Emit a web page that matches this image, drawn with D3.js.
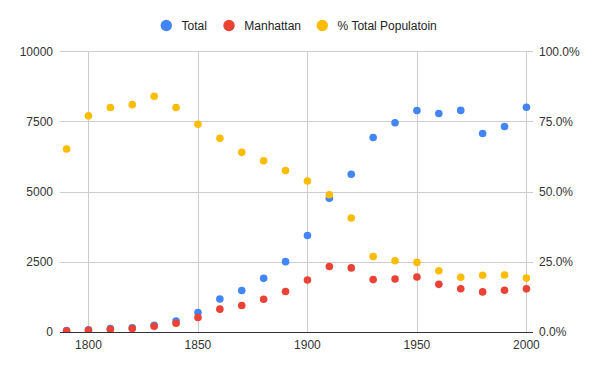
<!DOCTYPE html>
<html>
<head>
<meta charset="utf-8">
<script src="https://cdn.jsdelivr.net/npm/d3@7"></script>
<style>
  body { margin: 0; background: #fff; }
  svg { display: block; font-family: Arial, "Liberation Sans", sans-serif; }
</style>
</head>
<body>
<svg id="chart"></svg>
<script>
// census years and values (population in thousands)
var years = [1790, 1800, 1810, 1820, 1830, 1840, 1850, 1860, 1870, 1880, 1890,
             1900, 1910, 1920, 1930, 1940, 1950, 1960, 1970, 1980, 1990, 2000];
var total = [49, 79, 120, 152, 242, 391, 696, 1175, 1478, 1912, 2507,
             3437, 4767, 5620, 6930, 7455, 7892, 7782, 7895, 7072, 7323, 8008];
var manhattan = [33, 61, 96, 124, 203, 313, 516, 814, 942, 1165, 1441,
                 1850, 2332, 2284, 1867, 1890, 1960, 1698, 1539, 1428, 1488, 1537];
var pctTotal = [0.652, 0.77, 0.80, 0.81, 0.84, 0.80, 0.74, 0.69, 0.64, 0.61, 0.575,
                0.538, 0.489, 0.406, 0.269, 0.254, 0.248, 0.218, 0.195, 0.202, 0.203, 0.192];

var xTicks = [1800, 1850, 1900, 1950, 2000];
var leftTicks = [0, 2500, 5000, 7500, 10000];
var rightTicks = [0, 0.25, 0.5, 0.75, 1];

var seriesNames = ["Total", "Manhattan", "% Total Populatoin"];
var colors = ["#4285f4", "#ea4335", "#fbbc04"];

var w = 600, h = 371;
var plotL = 60, plotR = 533, plotT = 51.3, plotB = 332;

var svg = d3.select("#chart").attr("width", w).attr("height", h);

var x = d3.scaleLinear().domain([1787, 2003]).range([plotL, plotR]);
var y = d3.scaleLinear().domain([0, 10000]).range([plotB, plotT]);
var y2 = d3.scaleLinear().domain([0, 1]).range([plotB, plotT]);

// points are clipped at the baseline like the original
svg.append("defs").append("clipPath").attr("id", "plotclip")
    .append("rect")
    .attr("x", 0).attr("y", 0)
    .attr("width", w).attr("height", Math.round(y(0)) + 1);

// gridlines
svg.append("g").selectAll("line").data(leftTicks.slice(1)).join("line")
    .attr("x1", plotL).attr("x2", plotR)
    .attr("y1", function (d) { return Math.round(y(d)) + 0.5; })
    .attr("y2", function (d) { return Math.round(y(d)) + 0.5; })
    .attr("stroke", "#cccccc");

svg.append("g").selectAll("line").data(xTicks).join("line")
    .attr("x1", function (d) { return Math.round(x(d)) + 0.5; })
    .attr("x2", function (d) { return Math.round(x(d)) + 0.5; })
    .attr("y1", plotT).attr("y2", plotB)
    .attr("stroke", "#cccccc");

// axis labels
svg.append("g").selectAll("text").data(leftTicks).join("text")
    .attr("x", 53).attr("y", function (d) { return y(d); })
    .attr("dy", "0.35em").attr("text-anchor", "end")
    .attr("font-size", 12).attr("fill", "#333")
    .text(function (d) { return d; });

svg.append("g").selectAll("text").data(rightTicks).join("text")
    .attr("x", 539).attr("y", function (d) { return y2(d); })
    .attr("dy", "0.35em").attr("text-anchor", "start")
    .attr("font-size", 12).attr("fill", "#333")
    .text(d3.format(".1%"));

svg.append("g").selectAll("text").data(xTicks).join("text")
    .attr("x", function (d) { return x(d); }).attr("y", 348.5)
    .attr("text-anchor", "middle")
    .attr("font-size", 12).attr("fill", "#333")
    .text(function (d) { return d; });

// points
var series = [
    { vals: total, scale: y },
    { vals: manhattan, scale: y },
    { vals: pctTotal, scale: y2 }
];
var dots = svg.append("g").attr("clip-path", "url(#plotclip)");
series.forEach(function (s, i) {
    dots.append("g").selectAll("circle").data(years).join("circle")
        .attr("cx", function (d) { return x(d); })
        .attr("cy", function (d, j) { return s.scale(s.vals[j]); })
        .attr("r", 3.8)
        .attr("fill", colors[i]);
});

// baseline
svg.append("line")
    .attr("x1", plotL).attr("x2", plotR)
    .attr("y1", Math.round(y(0)) + 0.5).attr("y2", Math.round(y(0)) + 0.5)
    .attr("stroke", "#333333");

// legend
var legendX = [166.3, 229, 322.3];
var lg = svg.append("g").selectAll("g").data(seriesNames).join("g")
    .attr("transform", function (d, i) { return "translate(" + legendX[i] + ",25.5)"; });
lg.append("circle").attr("r", 5.7).attr("fill", function (d, i) { return colors[i]; });
lg.append("text").attr("x", 15.3).attr("dy", "0.35em")
    .attr("font-size", 12).attr("fill", "#222")
    .text(function (d) { return d; });
</script>
</body>
</html>
